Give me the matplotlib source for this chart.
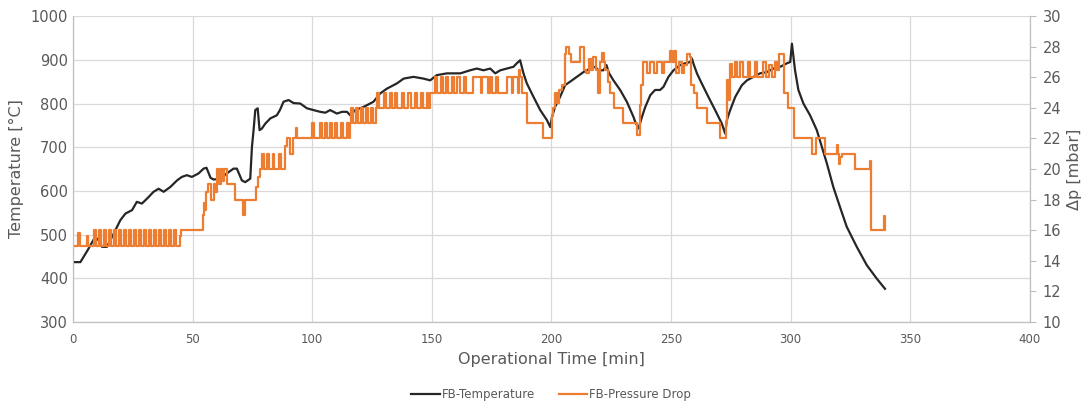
import matplotlib.pyplot as plt

# Fluid bed temperature (left axis)
time_temp = [0.3, 3.1, 6.1, 9.3, 10.7, 12.1, 14.2, 17.0, 19.8, 21.9, 24.7, 26.7, 28.8, 30.9,
             33.7, 35.8, 37.9, 40.7, 43.5, 45.5, 47.6, 49.7, 52.5, 54.6, 55.8, 57.5, 58.8,
             61.6, 64.3, 67.1, 68.5, 70.6, 72.0, 74.1, 74.8, 75.5, 76.2, 77.2, 78.0, 79.0,
             80.4, 82.5, 85.2, 86.5, 88.0, 90.1, 92.2, 95.0, 97.8, 100.5, 103.3, 105.5,
             107.5, 110.3, 112.5, 114.5, 115.9, 118.0, 121.4, 125.6, 128.4, 131.2, 135.4,
             138.2, 142.3, 146.5, 149.3, 152.1, 156.3, 161.9, 166.0, 168.8, 171.6, 174.4,
             176.5, 178.6, 181.4, 184.1, 185.5, 186.9, 188.3, 189.7, 192.5, 195.3, 198.1,
             199.5, 200.2, 201.5, 203.6, 205.7, 207.8, 210.6, 213.4, 216.2, 218.3, 219.6,
             221.7, 223.0, 224.0, 225.9, 228.7, 231.5, 234.3, 235.0, 236.4, 237.8, 239.2,
             241.3, 243.3, 245.4, 246.8, 248.9, 251.0, 253.8, 255.9, 258.0, 258.7, 259.3,
             260.8, 262.8, 265.6, 268.4, 271.2, 272.6, 273.3, 274.7, 276.8, 279.6, 281.7,
             284.4, 287.2, 290.0, 292.8, 295.6, 298.4, 299.8, 300.5, 301.8, 303.2, 305.3,
             308.1, 310.9, 313.0, 315.1, 317.8, 320.6, 323.4, 327.6, 331.8, 336.0, 339.4]
temp = [437, 437, 464, 495, 487, 472, 472, 502, 533, 548, 556, 575, 571, 582,
        598, 605, 598, 609, 624, 632, 636, 632, 640, 651, 653, 630, 626,
        628, 640, 651, 651, 624, 620, 628, 700, 740, 785, 789, 739, 743,
        754, 766, 773, 785, 804, 808, 801, 800, 789, 785, 781, 779,
        785, 777, 781, 781, 773, 785, 792, 804, 823, 834, 846,
        857, 861, 857, 853, 865, 869, 869, 876, 880, 876, 880,
        869, 876, 880, 884, 892, 899, 869, 846, 815, 785, 762,
        746, 769, 792, 815, 842, 850, 861, 872, 880, 884, 876,
        876, 888, 870, 853, 831, 804, 769, 758, 743, 769, 792,
        819, 831, 831, 838, 861, 876, 888, 892, 895, 903, 892,
        869, 846, 815, 785, 754, 731, 762, 785, 815, 842, 853,
        861, 869, 872, 880, 884, 892, 895, 937, 876, 831, 800,
        773, 739, 701, 663, 609, 563, 518, 472, 430, 399, 376]

# Fluid bed pressure drop (right axis), value holds from each time to the next
time_dp = [0, 2.3, 2.8, 5.8, 6.3, 8.7, 9.6, 10.8, 11.7, 12.9, 13.8, 15.0, 15.9, 17.1, 18.0,
           19.2, 20.1, 21.3, 22.2, 23.4, 24.3, 25.5, 26.4, 27.6, 28.5, 29.7, 30.6, 31.8,
           32.7, 33.9, 34.8, 36.0, 36.9, 38.1, 39.0, 40.2, 41.1, 42.3, 43.2, 44.8, 45.2,
           54.3, 54.8, 55.3, 55.8, 56.4, 57.8, 58.8, 59.5, 60.2, 61.2, 61.8, 62.6, 63.2,
           64.3, 67.8, 71.2, 71.9, 76.5, 77.2, 78.0, 79.2, 80.0, 81.3, 82.1, 83.4, 84.2,
           86.2, 87.0, 88.8, 89.4, 90.6, 91.8, 93.2, 93.7,
           99.9, 100.9, 103.3, 104.2, 105.4, 106.3, 107.5, 108.4, 109.6, 110.5, 112.1,
           113.0, 114.5, 115.4, 115.9, 116.3, 117.2, 118.4, 119.3, 120.5, 121.4, 122.6,
           123.5, 124.7, 125.6, 126.5, 127.0, 127.9, 129.8, 130.7, 132.6, 133.5, 134.7,
           135.6, 137.5, 138.4, 140.2, 141.1, 143.0, 143.9, 145.4, 146.3, 147.9, 148.6,
           149.3, 151.4, 152.3, 153.8, 154.7, 156.0, 156.9, 158.4, 159.3, 160.7, 161.6,
           163.5, 164.4, 167.4, 170.4, 171.0, 173.5, 174.1, 175.0, 176.8, 177.5, 181.4,
           183.3, 183.9, 186.0, 186.6, 187.0, 187.6, 189.7, 196.5,
           200.2, 200.8, 201.5, 202.2, 203.0, 204.3, 205.5, 206.2, 207.5, 208.0, 211.8,
           213.8, 214.5, 215.5, 216.5, 217.5, 218.5, 219.5, 220.2, 221.0, 221.8, 222.5,
           223.5, 224.5, 226.2, 230.0, 235.8, 236.9, 237.5, 238.2, 240.0, 241.0, 243.0,
           244.0, 246.0, 247.0, 249.5, 250.2, 251.2, 252.0, 253.2, 254.5, 255.5, 256.8,
           257.8, 258.5, 259.5, 261.0, 264.8, 270.5, 273.0, 273.4, 274.0, 274.6, 275.5,
           276.5, 277.5, 279.0, 280.0, 282.0, 283.0, 285.0, 286.0, 288.5, 289.5, 291.0,
           292.0, 293.5, 294.3, 295.0, 297.0, 298.8, 301.2, 308.8, 310.5, 314.4, 319.3,
           319.7, 320.2, 320.8, 321.4, 327.0, 333.0, 333.5, 333.9, 338.8, 339.2, 339.6]
dp = [15, 15.8, 15, 15.6, 15, 16, 15, 16, 15, 16, 15, 16, 15, 16, 15,
      16, 15, 16, 15, 16, 15, 16, 15, 16, 15, 16, 15, 16,
      15, 16, 15, 16, 15, 16, 15, 16, 15, 16, 15, 15.6, 16,
      17, 17.8, 17.3, 18.5, 19, 18, 19, 18.5, 20, 19, 20, 19.2, 20,
      19, 18, 17, 18, 18.8, 19.5, 20, 21, 20, 21, 20, 21, 20,
      21, 20, 21.5, 22, 21, 22, 22.7, 22,
      23, 22, 23, 22, 23, 22, 23, 22, 23, 22, 23,
      22, 23, 22, 23, 24, 23, 24, 23, 24, 23, 24,
      23, 24, 23, 24, 25, 24, 25, 24, 25, 24, 25,
      24, 25, 24, 25, 24, 25, 24, 25, 24, 25, 24,
      25, 26, 25, 26, 25, 26, 25, 26, 25, 26, 25,
      26, 25, 26, 25, 26, 25, 26, 25, 26, 25, 26,
      25, 26, 25, 26.5, 26, 25, 23, 22,
      23.5, 24, 25, 24.3, 25.2, 25.5, 27.5, 28, 27.5, 27, 28,
      26.5, 26.3, 27.2, 26.5, 27.3, 26.5, 25, 27, 27.6, 27, 26.5,
      25.7, 25, 24, 23, 22.2, 24.2, 25.5, 27, 26.3, 27, 26.3,
      27, 26.3, 27, 27.7, 27, 27.7, 26.3, 27, 26.3, 26.8, 27.5,
      27.3, 25.5, 25, 24, 23, 22, 23, 25.8, 24.5, 26.9, 26,
      27, 26, 27, 26, 27, 26, 27, 26, 27, 26, 26.8,
      26, 27, 26.5, 27.5, 25, 24, 22, 21, 22, 21, 21.6,
      21, 20.3, 20.8, 21, 20, 20.5, 16, 16, 16.9, 16, 16]

label_color = '#595959'
grid_color = '#d9d9d9'

fig = plt.figure(figsize=(10.81, 4.03), dpi=100)
ax = fig.add_axes([0.0675, 0.201, 0.8853, 0.759])
ax2 = ax.twinx()

ax.plot(time_temp, temp, color='#262626', lw=1.6, label='FB-Temperature', zorder=3)
ax2.plot(time_dp, dp, color='#ed7d31', lw=1.6, drawstyle='steps-post', label='FB-Pressure Drop')

ax.set_xlim(0, 400)
ax.set_ylim(300, 1000)
ax.set_xticks(range(0, 401, 50))
ax.set_yticks(range(300, 1001, 100))
ax2.set_ylim(10, 30)
ax2.set_yticks(range(10, 31, 2))

ax.grid(True, color=grid_color, lw=0.9)
ax.set_axisbelow(True)
for a in (ax, ax2):
    for side in ('left', 'right', 'bottom'):
        a.spines[side].set_color('#bfbfbf')
    a.spines['top'].set_visible(False)
ax.tick_params(axis='both', length=0, colors=label_color, labelsize=10.5)
ax.tick_params(axis='x', labelsize=8.5, pad=8)
ax2.tick_params(axis='y', length=4, color='#bfbfbf', colors=label_color, labelsize=10.5, pad=5)

ax.set_ylabel('Temperature [°C]', color=label_color, fontsize=11.5, labelpad=5)
ax2.set_ylabel('Δp [mbar]', color=label_color, fontsize=11.5, labelpad=4)
ax.set_xlabel('Operational Time [min]', color=label_color, fontsize=11.5, labelpad=4)

h1, l1 = ax.get_legend_handles_labels()
h2, l2 = ax2.get_legend_handles_labels()
leg = fig.legend(h1 + h2, l1 + l2, loc='lower center', bbox_to_anchor=(0.51, -0.022),
                 ncol=2, frameon=False, fontsize=8.5, handlelength=2.4, columnspacing=2.0,
                 handletextpad=0.2)
for t in leg.get_texts():
    t.set_color(label_color)

fig.savefig('out.png', dpi=100)
